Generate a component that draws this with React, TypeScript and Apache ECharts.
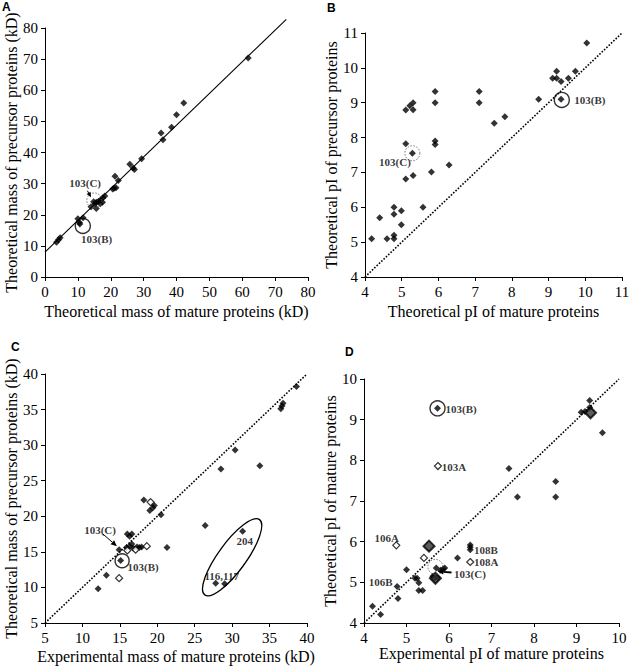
import React, { useEffect, useRef } from "react";
import * as echarts from "echarts";

// ---------- Panel A: theoretical mass mature vs precursor (kD)
const aMature = [61.8, 42.2, 40.0, 38.5, 35.3, 35.9, 29.4, 25.8, 26.8, 27.2, 21.3, 22.3, 20.6, 21.0, 21.6, 18.2, 17.6, 17.0, 16.3, 15.6, 15.2, 14.8, 15.6, 14.0, 16.8, 17.5, 10.0, 10.5, 11.6, 10.6, 4.6, 4.1, 3.5];
const aPrecursor = [70.4, 55.9, 52.1, 48.1, 46.3, 44.1, 38.0, 36.2, 35.0, 34.5, 32.4, 31.0, 28.3, 28.5, 28.7, 26.0, 25.5, 24.8, 24.3, 24.0, 23.5, 24.2, 22.0, 22.6, 23.5, 24.0, 18.7, 17.5, 19.0, 17.0, 12.6, 12.0, 11.2];
const aFitX = [0, 73.4];
const aFitY = [8, 82.8];

// ---------- Panel B: theoretical pI mature vs precursor
const bMature = [4.18, 4.4, 4.6, 4.79, 4.79, 4.79, 4.79, 4.99, 4.99, 5.58, 5.11, 5.31, 5.81, 6.29, 5.11, 5.29, 5.91, 5.91, 5.11, 5.22, 5.31, 5.31, 5.91, 5.91, 7.11, 7.11, 7.52, 7.81, 8.73, 9.34, 9.11, 9.22, 9.22, 9.34, 9.54, 9.73, 10.04];
const bPrecursor = [5.1, 5.7, 5.1, 6.0, 5.8, 5.2, 5.1, 5.9, 5.5, 6.0, 6.81, 6.91, 7.01, 7.21, 7.82, 7.55, 7.9, 7.8, 8.79, 8.91, 9.0, 8.8, 9.32, 9.0, 9.32, 9.0, 8.41, 8.6, 9.1, 9.1, 9.7, 9.7, 9.9, 9.61, 9.7, 9.9, 10.71];

// ---------- Panel C: experimental mass mature vs theoretical precursor (kD)
const cExp = [38.6, 36.8, 36.65, 36.5, 30.4, 33.7, 28.5, 26.4, 31.4, 27.8, 29.0, 21.3, 20.5, 19.6, 19.4, 19.0, 18.2, 16.0, 16.3, 16.6, 15.9, 16.3, 16.8, 17.3, 17.6, 17.9, 16.6, 14.9, 15.1, 13.2, 12.1];
const cTheo = [38.25, 35.9, 35.5, 35.1, 29.3, 27.1, 26.65, 18.7, 17.9, 10.6, 10.5, 15.6, 20.2, 21.5, 21.2, 20.8, 22.3, 17.5, 17.2, 17.5, 15.6, 15.8, 15.5, 15.7, 15.6, 15.7, 16.1, 15.3, 13.8, 11.7, 9.8];
const cOpenExp = [19.1, 17.1, 16.0, 18.6, 14.9];
const cOpenTheo = [22.0, 15.3, 15.2, 15.8, 11.3];

// ---------- Panel D: experimental pI vs theoretical pI of mature proteins
const dExp = [5.73, 7.41, 7.61, 8.51, 8.51, 9.61, 9.11, 9.31, 9.31, 9.2, 6.2, 6.5, 6.5, 6.5, 5.0, 5.2, 5.25, 5.29, 5.29, 5.38, 4.78, 4.8, 4.2, 4.39, 5.7, 5.62, 5.66, 5.72, 5.8, 5.86, 5.9];
const dTheo = [9.28, 7.8, 7.1, 7.48, 7.1, 8.68, 9.18, 9.47, 9.3, 9.2, 5.6, 5.92, 5.86, 5.8, 5.31, 5.1, 5.1, 4.99, 4.8, 4.8, 4.9, 4.6, 4.41, 4.21, 5.35, 5.15, 5.1, 5.12, 5.3, 5.33, 5.35];
const dOpenExp = [5.74, 4.76, 5.41, 6.5];
const dOpenTheo = [7.86, 5.91, 5.6, 5.5];
const dBigExp = [5.53, 9.33, 5.68];
const dBigTheo = [5.89, 9.17, 5.1];

// ---------- Annotation labels [x, y, text, align]
const aLabels: [number, number, string, string][] = [
  [12.2, 30.2, "103(C)", "center"],
  [15.7, 12.2, "103(B)", "center"],
];
const bLabels: [number, number, string, string][] = [
  [9.7, 9.08, "103(B)", "left"],
  [5.25, 7.29, "103(C)", "right"],
];
const cLabels: [number, number, string, string][] = [
  [12.35, 18.07, "103(C)", "center"],
  [18.1, 12.87, "103(B)", "center"],
  [31.7, 16.57, "204", "center"],
  [28.6, 11.6, "116,117", "center"],
];
const dLabels: [number, number, string, string][] = [
  [5.92, 9.26, "103(B)", "left"],
  [5.83, 7.84, "103A", "left"],
  [4.82, 6.08, "106A", "right"],
  [4.67, 5.01, "106B", "right"],
  [6.59, 5.8, "108B", "left"],
  [6.59, 5.5, "108A", "left"],
  [6.12, 5.21, "103(C)", "left"],
];

// circles [x, y, dotted]
const aCircles: [number, number, boolean][] = [[11.5, 16.4, false], [15.0, 24.6, true]];
const bCircles: [number, number, boolean][] = [[9.36, 9.08, false], [5.29, 7.55, true]];
const cCircles: [number, number, boolean][] = [[15.3, 13.75, false]];
const dCircles: [number, number, boolean][] = [[5.73, 9.28, false], [5.68, 5.38, true]];

const SERIF = "'Liberation Serif', 'Times New Roman', serif";

const zip = (xs: number[], ys: number[]) => xs.map((x, i) => [x, ys[i]]);

export default function App() {
  const ref = useRef<HTMLDivElement>(null);

  useEffect(() => {
    const chart = echarts.init(ref.current!, null, { renderer: "svg" });

    const grids = [
      { left: 45, top: 28, width: 263, height: 249 },
      { left: 365, top: 33, width: 257, height: 244 },
      { left: 45, top: 374, width: 262, height: 249 },
      { left: 364, top: 379, width: 255, height: 244 },
    ].map((g) => ({ ...g, containLabel: false, outerBoundsMode: "none" }));

    const axisBase = {
      axisLine: { show: true, onZero: false, lineStyle: { color: "#000", width: 1 } },
      axisTick: { show: true, length: 4, lineStyle: { color: "#000" } },
      splitLine: { show: false },
      axisLabel: { color: "#000", fontFamily: SERIF, fontSize: 15, margin: 7 },
      nameLocation: "middle",
      nameTextStyle: { color: "#000", fontFamily: SERIF, fontSize: 16 },
    };

    const xAxes = [
      { gridIndex: 0, min: 0, max: 80, interval: 10, name: "Theoretical mass of mature proteins (kD)", nameGap: 26 },
      { gridIndex: 1, min: 4, max: 11, interval: 1, name: "Theoretical pI of mature proteins", nameGap: 26 },
      { gridIndex: 2, min: 5, max: 40, interval: 5, name: "Experimental mass of mature proteins (kD)", nameGap: 25 },
      { gridIndex: 3, min: 4, max: 10, interval: 1, name: "Experimental pI of mature proteins", nameGap: 20 },
    ].map((a) => ({ type: "value", ...axisBase, ...a }));

    const yAxes = [
      { gridIndex: 0, min: 0, max: 80, interval: 10, name: "Theoretical mass of precursor proteins (kD)", nameGap: 25 },
      { gridIndex: 1, min: 4, max: 11, interval: 1, name: "Theoretical pI of precursor proteins", nameGap: 26 },
      { gridIndex: 2, min: 5, max: 40, interval: 5, name: "Theoretical mass of precursor proteins (kD)", nameGap: 25 },
      { gridIndex: 3, min: 4, max: 10, interval: 1, name: "Theoretical pI of mature proteins", nameGap: 23 },
    ].map((a) => ({ type: "value", ...axisBase, ...a }));

    const filled = (i: number, data: number[][]) => ({
      type: "scatter",
      xAxisIndex: i,
      yAxisIndex: i,
      symbol: "diamond",
      symbolSize: 7,
      itemStyle: { color: "#000" },
      data,
      z: 5,
    });
    const open = (i: number, data: number[][], size = 7, bw = 1.2, fill = "#fff") => ({
      type: "scatter",
      xAxisIndex: i,
      yAxisIndex: i,
      symbol: "diamond",
      symbolSize: size,
      itemStyle: { color: fill, borderColor: "#000", borderWidth: bw },
      data,
      z: 6,
    });
    const refLine = (i: number, xs: number[], ys: number[], dotted: boolean) => ({
      type: "line",
      xAxisIndex: i,
      yAxisIndex: i,
      data: zip(xs, ys),
      symbol: "none",
      clip: false,
      lineStyle: { color: "#000", width: dotted ? 1.6 : 1.1, type: dotted ? [1.6, 1.6] : "solid" },
      z: 2,
    });
    const circles = (i: number, cs: [number, number, boolean][], size: number) => ({
      type: "scatter",
      xAxisIndex: i,
      yAxisIndex: i,
      symbol: "circle",
      symbolSize: size,
      data: cs.map(([x, y, dotted]) => ({
        value: [x, y],
        itemStyle: {
          color: "transparent",
          borderColor: dotted ? "#555" : "#000",
          borderWidth: dotted ? 1 : 1.4,
          borderType: dotted ? [1.5, 1.5] : "solid",
        },
      })),
      z: 7,
    });
    const labels = (i: number, ls: [number, number, string, string][]) => ({
      type: "scatter",
      xAxisIndex: i,
      yAxisIndex: i,
      symbol: "circle",
      symbolSize: 1,
      itemStyle: { color: "transparent" },
      data: ls.map(([x, y, t, align]) => ({
        value: [x, y],
        name: t,
        label: {
          show: true,
          position: "inside",
          formatter: t,
          align,
          verticalAlign: "middle",
          color: "#000",
          fontFamily: SERIF,
          fontWeight: "bold",
          fontSize: 11,
          lineHeight: 11,
        },
      })),
      z: 8,
    });

    const series = [
      refLine(0, aFitX, aFitY, false),
      filled(0, zip(aMature, aPrecursor)),
      circles(0, aCircles, 15),
      labels(0, aLabels),

      refLine(1, [4, 11], [4, 11], true),
      filled(1, zip(bMature, bPrecursor)),
      circles(1, bCircles, 15),
      labels(1, bLabels),

      refLine(2, [5, 40], [5, 40], true),
      filled(2, zip(cExp, cTheo)),
      open(2, zip(cOpenExp, cOpenTheo)),
      circles(2, cCircles, 14),
      labels(2, cLabels),

      refLine(3, [4, 10], [4, 10], true),
      filled(3, zip(dExp, dTheo)),
      open(3, zip(dOpenExp, dOpenTheo)),
      open(3, zip(dBigExp, dBigTheo), 11, 2, "#333"),
      circles(3, dCircles, 15),
      labels(3, dLabels),
    ];

    chart.setOption({
      animation: false,
      backgroundColor: "#fff",
      grid: grids,
      xAxis: xAxes,
      yAxis: yAxes,
      series,
    });

    const px = (g: number, p: number[]) => chart.convertToPixel({ gridIndex: g } as any, p) as number[];

    const arrow = (g: number, from: number[], to: number[], head = 6, w = 1) => {
      const a = px(g, from);
      const b = px(g, to);
      const ang = Math.atan2(b[1] - a[1], b[0] - a[0]);
      const hx = b[0] - head * Math.cos(ang);
      const hy = b[1] - head * Math.sin(ang);
      const nx = -Math.sin(ang) * head * 0.45;
      const ny = Math.cos(ang) * head * 0.45;
      return [
        { type: "line", shape: { x1: a[0], y1: a[1], x2: hx, y2: hy }, style: { stroke: "#000", lineWidth: w }, z: 20 },
        {
          type: "polygon",
          shape: { points: [[b[0], b[1]], [hx + nx, hy + ny], [hx - nx, hy - ny]] },
          style: { fill: "#000" },
          z: 20,
        },
      ];
    };

    const ell = px(2, [30.0, 14.24]);

    const letter = (t: string, x: number, y: number) => ({
      type: "text",
      left: x,
      top: y,
      style: { text: t, fill: "#000", font: "bold 12px 'Liberation Sans', Arial, sans-serif" },
    });

    chart.setOption({
      graphic: [
        letter("A", 2, 1),
        letter("B", 327, 2),
        letter("C", 11, 341),
        letter("D", 345, 346),
        ...arrow(0, [12.9, 27.7], [14.0, 25.6], 5),
        ...arrow(2, [12.75, 17.5], [14.6, 15.8], 6),
        ...arrow(3, [6.06, 5.24], [5.73, 5.27], 6, 2),
        {
          type: "ellipse",
          x: ell[0],
          y: ell[1],
          rotation: (54 * Math.PI) / 180,
          shape: { cx: 0, cy: 0, rx: 46.5, ry: 14 },
          style: { fill: "none", stroke: "#000", lineWidth: 1.3 },
          z: 20,
        },
      ],
    });

    return () => chart.dispose();
  }, []);

  return (
    <div
      ref={ref}
      style={{ position: "fixed", left: 0, top: 0, width: 632, height: 669, background: "#fff" }}
    />
  );
}
